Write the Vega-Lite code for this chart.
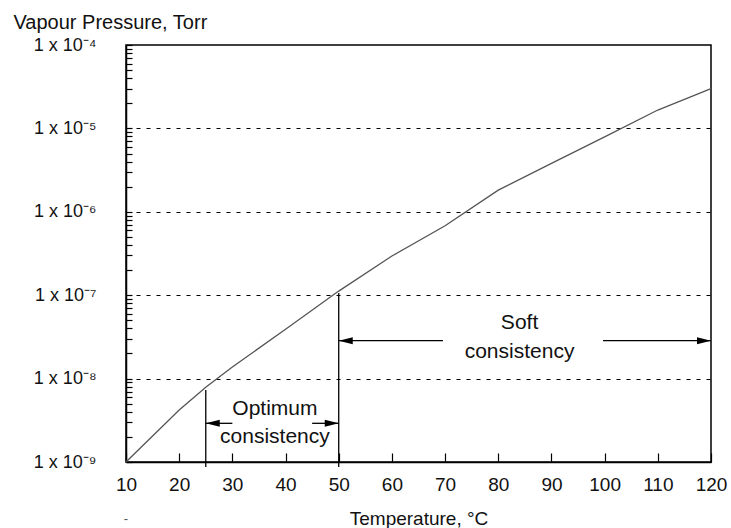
{
  "$schema": "https://vega.github.io/schema/vega-lite/v6.json",
  "width": 585,
  "height": 417,
  "autosize": "none",
  "padding": {"left": 126, "top": 45, "right": 20, "bottom": 66},
  "background": "white",
  "config": {
    "view": {"stroke": "#000", "strokeWidth": 1.5},
    "font": "Liberation Sans"
  },
  "datasets": {
    "curve": [
      {"t": 10, "p": 1e-9},
      {"t": 20, "p": 4.2e-9},
      {"t": 25, "p": 7.9e-9},
      {"t": 30, "p": 1.38e-8},
      {"t": 40, "p": 3.9e-8},
      {"t": 50, "p": 1.12e-7},
      {"t": 60, "p": 2.95e-7},
      {"t": 70, "p": 6.8e-7},
      {"t": 80, "p": 1.82e-6},
      {"t": 90, "p": 3.8e-6},
      {"t": 100, "p": 7.9e-6},
      {"t": 110, "p": 1.66e-5},
      {"t": 120, "p": 3.0e-5}
    ],
    "segments": [
      {"x": 25, "x2": 25, "y": 8.7e-10, "y2": 7.3e-9},
      {"x": 50, "x2": 50, "y": 8.7e-10, "y2": 1.06e-7},
      {"x": 25, "x2": 30, "y": 2.91e-9, "y2": 2.91e-9},
      {"x": 45, "x2": 50, "y": 2.91e-9, "y2": 2.91e-9},
      {"x": 50, "x2": 69.6, "y": 2.85e-8, "y2": 2.85e-8},
      {"x": 99.7, "x2": 120, "y": 2.85e-8, "y2": 2.85e-8}
    ],
    "heads": [
      {"x": 25, "y": 2.91e-9, "dir": "left"},
      {"x": 50, "y": 2.91e-9, "dir": "right"},
      {"x": 50, "y": 2.85e-8, "dir": "left"},
      {"x": 120, "y": 2.85e-8, "dir": "right"}
    ],
    "labels": [
      {"x": 38, "y": 4.32e-9, "text": "Optimum"},
      {"x": 38, "y": 2.0e-9, "text": "consistency"},
      {"x": 84, "y": 4.64e-8, "text": "Soft"},
      {"x": 84, "y": 2.08e-8, "text": "consistency"}
    ],
    "stray": [
      {"x": 10, "y": 1e-9, "text": "-"}
    ]
  },
  "layer": [
    {
      "data": {"name": "curve"},
      "mark": {"type": "line", "color": "#555", "strokeWidth": 1.3},
      "encoding": {
        "x": {
          "field": "t",
          "type": "quantitative",
          "scale": {"domain": [10, 120], "nice": false, "zero": false},
          "axis": {
            "values": [10, 15, 20, 25, 30, 35, 40, 45, 50, 55, 60, 65, 70, 75, 80, 85, 90, 95, 100, 105, 110, 115, 120],
            "labelExpr": "datum.value % 10 === 0 ? datum.label : ''",
            "tickSize": {"condition": {"test": "datum.value % 10 === 0", "value": -9}, "value": -6},
            "tickColor": "#000",
            "tickWidth": 1.2,
            "domainColor": "#000",
            "domainWidth": 1.5,
            "grid": false,
            "labelFontSize": 19,
            "labelColor": "#111",
            "labelPadding": 22,
            "labelFlush": false,
            "labelOverlap": false,
            "title": "Temperature, °C",
            "titleFontSize": 19,
            "titleFontWeight": "normal",
            "titleColor": "#111",
            "titleBaseline": "alphabetic",
            "titleY": 62
          }
        },
        "y": {
          "field": "p",
          "type": "quantitative",
          "scale": {"type": "log", "domain": [1e-9, 1e-4], "nice": false},
          "axis": {
            "values": [1e-9, 2e-9, 3e-9, 4e-9, 5e-9, 6e-9, 7e-9, 8e-9, 9e-9,
                       1e-8, 2e-8, 3e-8, 4e-8, 5e-8, 6e-8, 7e-8, 8e-8, 9e-8,
                       1e-7, 2e-7, 3e-7, 4e-7, 5e-7, 6e-7, 7e-7, 8e-7, 9e-7,
                       1e-6, 2e-6, 3e-6, 4e-6, 5e-6, 6e-6, 7e-6, 8e-6, 9e-6,
                       1e-5, 2e-5, 3e-5, 4e-5, 5e-5, 6e-5, 7e-5, 8e-5, 9e-5, 1e-4],
            "labelExpr": "abs(log(datum.value)/LN10 - round(log(datum.value)/LN10)) < 0.01 ? '1 x 10⁻' + ['⁰','¹','²','³','⁴','⁵','⁶','⁷','⁸','⁹'][-round(log(datum.value)/LN10)] : ''",
            "tickSize": -6,
            "tickColor": "#000",
            "tickWidth": 1.2,
            "domainColor": "#000",
            "domainWidth": 1.5,
            "grid": true,
            "gridColor": "#000",
            "gridDash": [4, 6],
            "gridWidth": 1,
            "gridOpacity": {"condition": {"test": "abs(log(datum.value)/LN10 - round(log(datum.value)/LN10)) < 0.01 && round(log(datum.value)/LN10) > -9 && round(log(datum.value)/LN10) < -4", "value": 1}, "value": 0},
            "labelFontSize": 18,
            "labelColor": "#111",
            "labelPadding": 36,
            "labelFlush": false,
            "labelOverlap": false,
            "title": "Vapour Pressure, Torr",
            "titleAngle": 0,
            "titleAlign": "left",
            "titleBaseline": "alphabetic",
            "titleFontSize": 20,
            "titleFontWeight": "normal",
            "titleColor": "#111",
            "titleX": -113,
            "titleY": -17
          }
        }
      }
    },
    {
      "data": {"name": "segments"},
      "mark": {"type": "rule", "color": "#000", "strokeWidth": 1.3},
      "encoding": {
        "x": {"field": "x", "type": "quantitative"},
        "x2": {"field": "x2"},
        "y": {"field": "y", "type": "quantitative"},
        "y2": {"field": "y2"}
      }
    },
    {
      "data": {"name": "heads"},
      "mark": {"type": "point", "filled": true, "color": "#000", "opacity": 1, "size": 196},
      "encoding": {
        "x": {"field": "x", "type": "quantitative"},
        "y": {"field": "y", "type": "quantitative"},
        "shape": {
          "field": "dir",
          "type": "nominal",
          "scale": {"domain": ["left", "right"], "range": ["M0,0L2,-0.5L2,0.5Z", "M0,0L-2,-0.5L-2,0.5Z"]},
          "legend": null
        }
      }
    },
    {
      "data": {"name": "labels"},
      "mark": {"type": "text", "fontSize": 21, "color": "#111", "align": "center", "baseline": "middle"},
      "encoding": {
        "x": {"field": "x", "type": "quantitative"},
        "y": {"field": "y", "type": "quantitative"},
        "text": {"field": "text"}
      }
    },
    {
      "data": {"name": "stray"},
      "mark": {"type": "text", "fontSize": 13, "color": "#555", "align": "center", "baseline": "middle", "dy": 57},
      "encoding": {
        "x": {"field": "x", "type": "quantitative"},
        "y": {"field": "y", "type": "quantitative"},
        "text": {"field": "text"}
      }
    }
  ]
}
